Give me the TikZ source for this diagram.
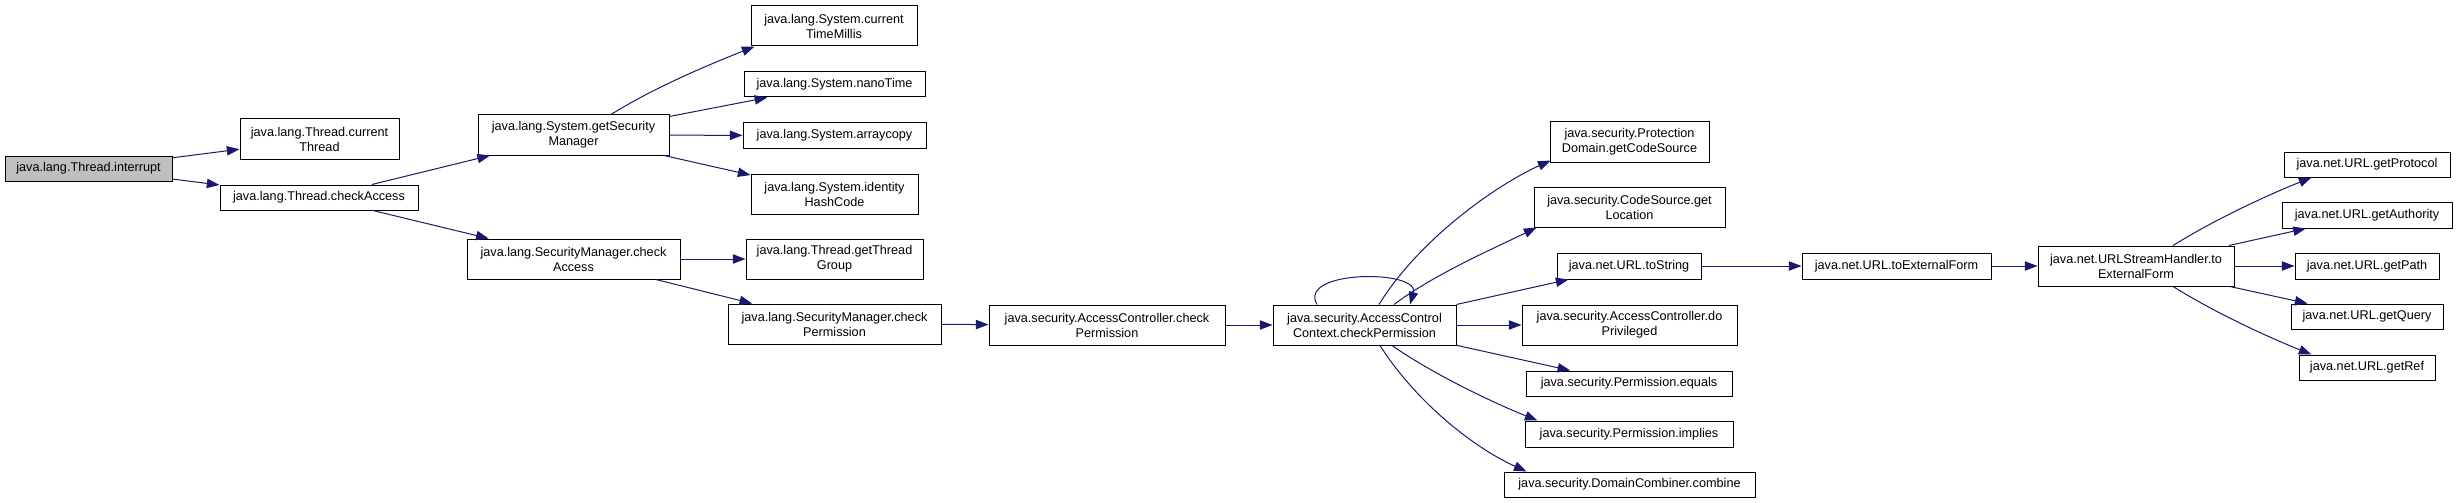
\documentclass[tikz,border=0pt]{standalone}
\usepackage{fontspec}
\setmainfont{Liberation Sans}
\usetikzlibrary{arrows.meta,calc}
\definecolor{edgeblue}{RGB}{25,25,112}
\definecolor{hlgray}{RGB}{191,191,191}
\begin{document}
\begin{tikzpicture}[x=0.75pt,y=-0.75pt,
  box/.style={draw=black, line width=0.75pt, fill=white, rectangle, inner sep=0pt, align=center, font=\fontsize{9.5}{11.25}\selectfont},
  sz/.style 2 args={minimum width=#1*0.75pt, minimum height=#2*0.75pt},
  call/.style={draw=edgeblue, line width=0.75pt, -{Triangle[length=9.5pt,width=7pt]}}]
\useasboundingbox[fill=white] (0,0) rectangle (2457,503);
% column 0-1
\node[box, sz={167}{25}, fill=hlgray] (intr) at (88.5,168.5) {java.lang.Thread.interrupt};
\node[box, sz={159}{40}] (curThr) at (319.5,139) {java.lang.Thread.current\\Thread};
\node[box, sz={198}{25}] (thrCA) at (319,197.5) {java.lang.Thread.checkAccess};
% column 2
\node[box, sz={191}{40}] (getSM) at (573.5,135) {java.lang.System.getSecurity\\Manager};
\node[box, sz={213}{40}] (smCA) at (573.5,259) {java.lang.SecurityManager.check\\Access};
% column 3
\node[box, sz={166}{40}] (ctm) at (834,26) {java.lang.System.current\\TimeMillis};
\node[box, sz={181}{25}] (nano) at (834.5,84.5) {java.lang.System.nanoTime};
\node[box, sz={183}{25}] (arr) at (834.5,135.5) {java.lang.System.arraycopy};
\node[box, sz={167}{40}] (ihc) at (834.5,194) {java.lang.System.identity\\HashCode};
\node[box, sz={177}{40}] (gtg) at (834.5,259) {java.lang.Thread.getThread\\Group};
\node[box, sz={213}{40}] (smCP) at (834.5,324) {java.lang.SecurityManager.check\\Permission};
% column 4-5
\node[box, sz={236}{40}] (acCP) at (1107,325) {java.security.AccessController.check\\Permission};
\node[box, sz={183}{40}] (accCP) at (1364.5,325) {java.security.AccessControl\\Context.checkPermission};
% column 6
\node[box, sz={159}{40}] (pdGCS) at (1629.5,142) {java.security.Protection\\Domain.getCodeSource};
\node[box, sz={191}{40}] (csGL) at (1629.5,207) {java.security.CodeSource.get\\Location};
\node[box, sz={144}{26}] (urlTS) at (1629,266) {java.net.URL.toString};
\node[box, sz={215}{40}] (doPriv) at (1629.5,325) {java.security.AccessController.do\\Privileged};
\node[box, sz={206}{25}] (pEq) at (1629,383.5) {java.security.Permission.equals};
\node[box, sz={208}{26}] (pImp) at (1629,434) {java.security.Permission.implies};
\node[box, sz={251}{25}] (dcComb) at (1629.5,484.5) {java.security.DomainCombiner.combine};
% column 7-9
\node[box, sz={189}{26}] (urlTEF) at (1896.5,266) {java.net.URL.toExternalForm};
\node[box, sz={196}{40}] (ushTEF) at (2136,266) {java.net.URLStreamHandler.to\\ExternalForm};
\node[box, sz={166}{25}] (gProt) at (2367,164.5) {java.net.URL.getProtocol};
\node[box, sz={170}{26}] (gAuth) at (2367,215) {java.net.URL.getAuthority};
\node[box, sz={144}{26}] (gPath) at (2367,266) {java.net.URL.getPath};
\node[box, sz={152}{25}] (gQuery) at (2367,316.5) {java.net.URL.getQuery};
\node[box, sz={136}{25}] (gRef) at (2367,367.5) {java.net.URL.getRef};

% edges
\draw[call] (intr) -- (curThr);
\draw[call] (intr) -- (thrCA);
\draw[call] (thrCA) -- (getSM);
\draw[call] (thrCA) -- (smCA);
\draw[call] ($(getSM.north)+(37.5,0)$) .. controls +(45,-28) and +(-45,18) .. ($(ctm.south west)+(4,0)$);
\draw[call] (getSM) -- (nano);
\draw[call] (getSM) -- (arr);
\draw[call] (getSM) -- (ihc);
\draw[call] (smCA) -- (gtg);
\draw[call] (smCA) -- (smCP);
\draw[call] (smCP) -- (acCP);
\draw[call] (acCP) -- (accCP);
\draw[call] ($(accCP.north)+(-47.5,0)$) .. controls +(-20,-35) and +(10,-35) .. ($(accCP.north)+(45.5,0)$);
\draw[call] ($(accCP.north)+(14.5,0)$) .. controls +(40,-65) and +(-55,25) .. ($(pdGCS.south west)+(1,-2)$);
\draw[call] ($(accCP.north)+(29.5,0)$) .. controls +(40,-30) and +(-45,22) .. ($(csGL.south west)+(3,0)$);
\draw[call] (accCP) -- (urlTS);
\draw[call] (accCP) -- (doPriv);
\draw[call] (accCP) -- (pEq);
\draw[call] ($(accCP.south)+(27.5,0)$) .. controls +(40,28) and +(-45,-18) .. ($(pImp.north west)+(13,0)$);
\draw[call] ($(accCP.south)+(15.5,0)$) .. controls +(35,55) and +(-55,-25) .. ($(dcComb.north west)+(23,0)$);
\draw[call] (urlTS) -- (urlTEF);
\draw[call] (urlTEF) -- (ushTEF);
\draw[call] ($(ushTEF.north)+(37,0)$) .. controls +(45,-28) and +(-40,16) .. ($(gProt.south west)+(28,0)$);
\draw[call] (ushTEF) -- (gAuth);
\draw[call] (ushTEF) -- (gPath);
\draw[call] (ushTEF) -- (gQuery);
\draw[call] ($(ushTEF.south)+(37,0)$) .. controls +(45,28) and +(-40,-16) .. ($(gRef.north west)+(13,0)$);
\end{tikzpicture}
\end{document}
